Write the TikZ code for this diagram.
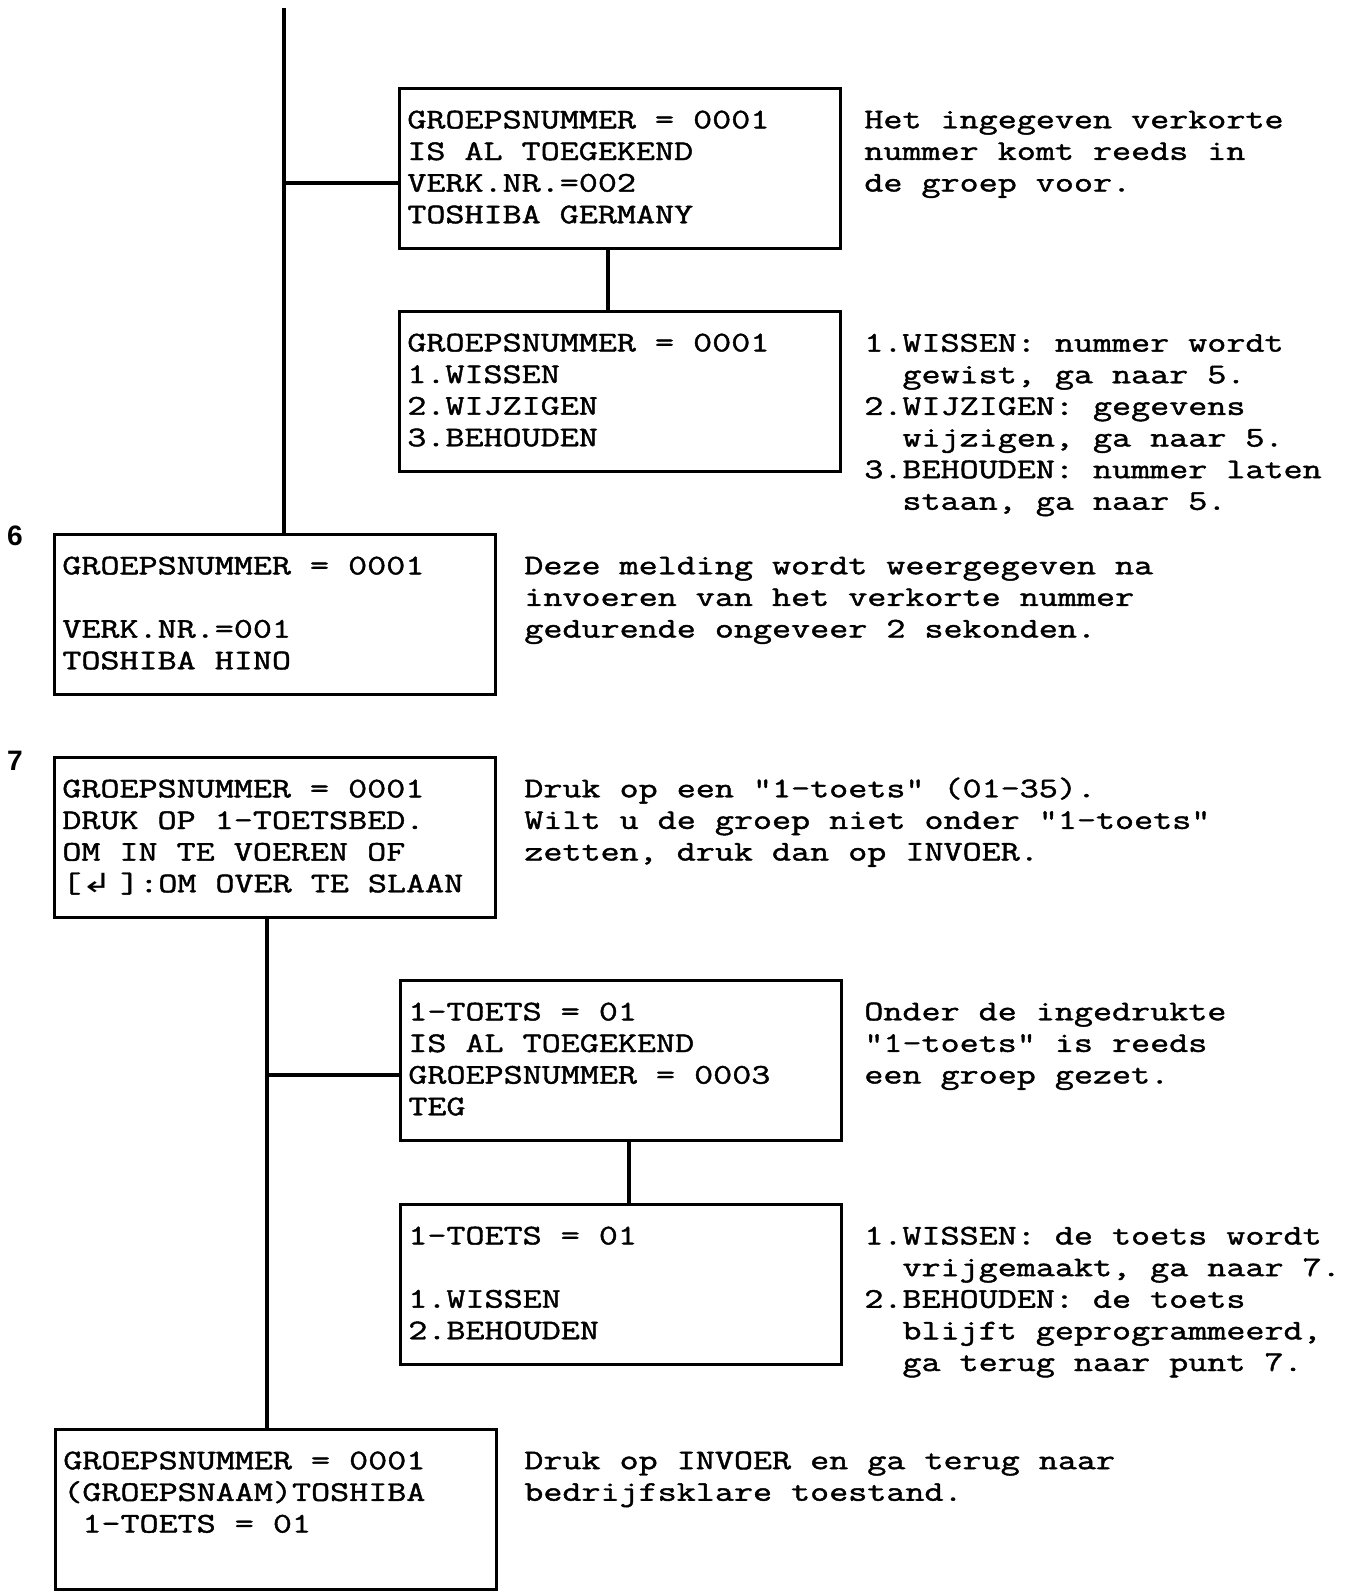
\documentclass[tikz,border=0pt]{standalone}
\usepackage{fontspec}
\usepackage{graphicx}
\usepackage{tikz}
\usetikzlibrary{positioning,calc}
\newfontfamily\scrfam{Latin Modern Mono}[FakeStretch=1.3,FakeBold=1.5]
\newfontfamily\labfam{Liberation Sans}
\newfontfamily\symfam{DejaVu Sans}
\newcommand{\scrFont}{\scrfam\fontsize{16.2pt}{18pt}\selectfont}
\newcommand{\scrIndent}{\hphantom{00}}
\newcommand{\enterKey}{\makebox[22.1pt][l]{\scalebox{1.4}[1]{\symfam\fontsize{15pt}{18pt}\selectfont ↲}}}

\begin{document}
\begin{tikzpicture}[
    x=0.02cm, y=-0.02cm,
    scr/.style={draw, line width=1.9pt, minimum width=8.82cm, minimum height=3.2cm, anchor=north west, inner sep=0pt},
    scrtext/.style={font=\scrFont, align=left, anchor=base west, inner sep=0pt},
    note/.style={font=\scrFont, align=left, anchor=base west, inner sep=0pt},
    numlabel/.style={font=\labfam\bfseries\fontsize{16pt}{18pt}\selectfont, inner sep=0pt},
    wire/.style={line width=1.9pt}
]
\useasboundingbox (0,0) rectangle (1351,1595);

% ===== GROUP NUMBER ALREADY USED =====
% (text nodes sit on the baseline of their last line)
\node[scr] (B1) at (398,87) {};
\node[scrtext] (B1t) at (407,223.25) {GROEPSNUMMER = 0001\\IS AL TOEGEKEND\\VERK.NR.=002\\TOSHIBA GERMANY};
\node[note] (N1) at (864,191.5) {Het ingegeven verkorte\\nummer komt reeds in\\de groep voor.};

\node[scr] (B2) at (398,310) {};
\node[scrtext] (B2t) at (407,446.25) {GROEPSNUMMER = 0001\\1.WISSEN\\2.WIJZIGEN\\3.BEHOUDEN};
\node[note] (N2) at (864,509.75) {1.WISSEN: nummer wordt\\\scrIndent gewist, ga naar 5.\\2.WIJZIGEN: gegevens\\\scrIndent wijzigen, ga naar 5.\\3.BEHOUDEN: nummer laten\\\scrIndent staan, ga naar 5.};

% ===== STEP 6 =====
\node[numlabel] (L6) at (15,536) {6};
\node[scr] (B6) at (53,533) {};
\node[scrtext] (B6t) at (62,669.25) {GROEPSNUMMER = 0001\\\mbox{}\\VERK.NR.=001\\TOSHIBA HINO};
\node[note] (N6) at (524,637.5) {Deze melding wordt weergegeven na\\invoeren van het verkorte nummer\\gedurende ongeveer 2 sekonden.};

% ===== STEP 7 =====
\node[numlabel] (L7) at (15,761) {7};
\node[scr] (B7) at (53,756) {};
\node[scrtext] (B7t) at (62,892.25) {GROEPSNUMMER = 0001\\DRUK OP 1-TOETSBED.\\OM IN TE VOEREN OF\\{[}\enterKey]:OM OVER TE SLAAN};
\node[note] (N7) at (524,860.5) {Druk op een "1-toets" (01-35).\\Wilt u de groep niet onder "1-toets"\\zetten, druk dan op INVOER.};

% ===== KEY ALREADY USED =====
\node[scr] (B8) at (399,979) {};
\node[scrtext] (B8t) at (408,1115.25) {1-TOETS = 01\\IS AL TOEGEKEND\\GROEPSNUMMER = 0003\\TEG};
\node[note] (N8) at (864,1083.5) {Onder de ingedrukte\\"1-toets" is reeds\\een groep gezet.};

\node[scr] (B9) at (399,1203) {};
\node[scrtext] (B9t) at (408,1339.25) {1-TOETS = 01\\\mbox{}\\1.WISSEN\\2.BEHOUDEN};
\node[note] (N9) at (864,1371) {1.WISSEN: de toets wordt\\\scrIndent vrijgemaakt, ga naar 7.\\2.BEHOUDEN: de toets\\\scrIndent blijft geprogrammeerd,\\\scrIndent ga terug naar punt 7.};

% ===== FINAL =====
\node[scr] (BF) at (54,1428) {};
\node[scrtext] (BFt) at (63,1532.5) {GROEPSNUMMER = 0001\\(GROEPSNAAM)TOSHIBA\\\hphantom{0}1-TOETS = 01};
\node[note] (NF) at (524,1500.75) {Druk op INVOER en ga terug naar\\bedrijfsklare toestand.};

% ===== CONNECTORS =====
\coordinate (top) at (284,8);
\coordinate (j1) at (284,183);
\coordinate (c1) at (608,0);
\coordinate (c7) at (267,0);
\coordinate (j7) at (267,1075);
\coordinate (c8) at (629,0);
\draw[wire] (top) -- (top |- B6.north);
\draw[wire] (j1) -- (j1 -| B1.west);
\draw[wire] (c1 |- B1.south) -- (c1 |- B2.north);
\draw[wire] (c7 |- B7.south) -- (c7 |- BF.north);
\draw[wire] (j7) -- (j7 -| B8.west);
\draw[wire] (c8 |- B8.south) -- (c8 |- B9.north);

\end{tikzpicture}
\end{document}
